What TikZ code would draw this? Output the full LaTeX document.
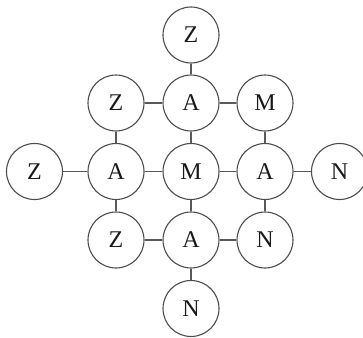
\documentclass[tikz,border=0pt]{standalone}
\usepackage{fontspec}
\setmainfont{Liberation Serif}
\begin{document}
\begin{tikzpicture}[x=1pt,y=-1pt,
  cell/.style={circle,draw=black!70,line width=1.1pt,minimum size=56pt,inner sep=0pt,font=\fontsize{24}{24}\selectfont,text=black!90},
  link/.style={draw=black!65,line width=1.1pt}]
\useasboundingbox (0,0) rectangle (363,337);
\node[cell] (z1) at (191,35) {Z};
\node[cell] (z2) at (116,103) {Z};
\node[cell] (a2) at (191,103) {A};
\node[cell] (m2) at (265,103) {M};
\node[cell] (z3) at (34.5,171.5) {Z};
\node[cell] (a3) at (116,171.5) {A};
\node[cell] (m3) at (191,171.5) {M};
\node[cell] (b3) at (265,171.5) {A};
\node[cell] (n3) at (339.5,171.5) {N};
\node[cell] (z4) at (116,240) {Z};
\node[cell] (a4) at (191,240) {A};
\node[cell] (n4) at (265,240) {N};
\node[cell] (n5) at (191,308.5) {N};
\draw[link] (z1) -- (a2);
\draw[link] (z2) -- (a2);
\draw[link] (a2) -- (m2);
\draw[link] (z2) -- (a3);
\draw[link] (a2) -- (m3);
\draw[link] (m2) -- (b3);
\draw[link] (z3) -- (a3);
\draw[link] (a3) -- (m3);
\draw[link] (m3) -- (b3);
\draw[link] (b3) -- (n3);
\draw[link] (a3) -- (z4);
\draw[link] (m3) -- (a4);
\draw[link] (b3) -- (n4);
\draw[link] (z4) -- (a4);
\draw[link] (a4) -- (n4);
\draw[link] (a4) -- (n5);
\end{tikzpicture}
\end{document}
